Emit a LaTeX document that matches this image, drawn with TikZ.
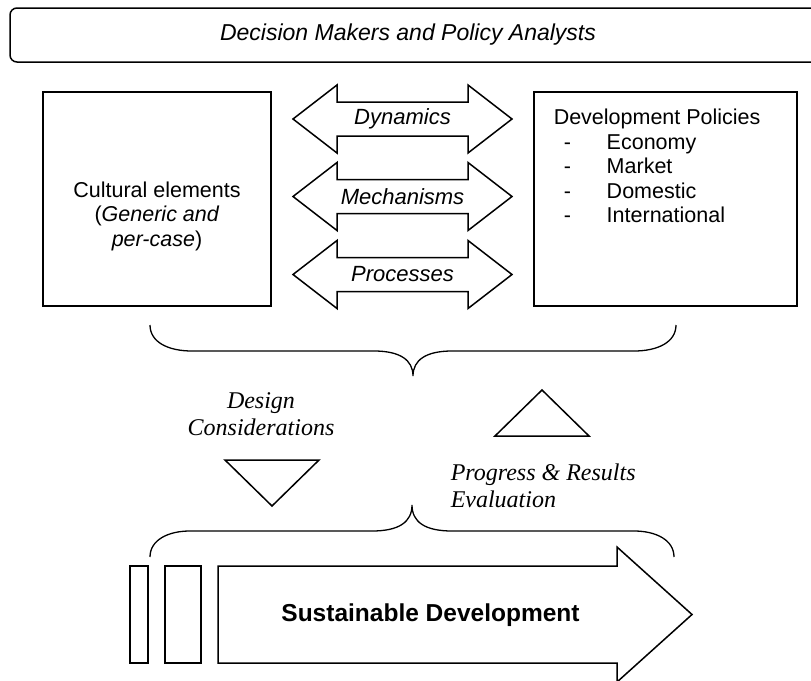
\documentclass[tikz,border=0pt]{standalone}
\usepackage{fontspec}
\setmainfont{Liberation Sans}
\newfontfamily\timesfont{Liberation Serif}
\usetikzlibrary{positioning}

\begin{document}
\begin{tikzpicture}[x=1pt,y=-1pt,line width=1.5pt,line join=miter,
	boxtext/.style={font=\fontsize{21.5}{24.5}\selectfont,inner sep=0pt},
	flowlbl/.style={font=\fontsize{22}{25}\selectfont\itshape,inner sep=0pt},
	notelbl/.style={font=\timesfont\itshape\fontsize{24}{27.5}\selectfont,inner sep=0pt},
	brace/.style={line width=1.3pt}]
				\useasboundingbox (0,0) rectangle (811,680);
				\coordinate (t1) at (10,8);%title box
				\coordinate (t2) at (840,62);
				\coordinate (b1) at (43,92);%cultural box
				\coordinate (b2) at (271,306);
				\coordinate (b3) at (534,92);%policies box
				\coordinate (b4) at (797,306);
				\coordinate (a1) at (293,119);%Dynamics
				\coordinate (a2) at (293,196.5);%Mechanisms
				\coordinate (a3) at (293,274.5);%Processes
				\coordinate (s1) at (218,566);%sustainable arrow
				\coordinate (s2) at (692,614.5);%arrow tip
				
				\draw[rounded corners=7pt] (t1) rectangle (t2);
				\node (title) at (408,35) [font=\fontsize{23}{26}\selectfont\itshape]{Decision Makers and Policy Analysts};
				
				\draw (b1) rectangle (b2);
				\node (cult) at (157,216) [boxtext,align=center]{Cultural elements\\(\textit{Generic and}\\\textit{per-case})};
				\draw (b3) rectangle (b4);
				\node (pol) at (553,166) [boxtext,anchor=west,align=left]{Development Policies\\
					\makebox[53pt][l]{\hspace{10pt}-}Economy\\
					\makebox[53pt][l]{\hspace{10pt}-}Market\\
					\makebox[53pt][l]{\hspace{10pt}-}Domestic\\
					\makebox[53pt][l]{\hspace{10pt}-}International};
				
				\draw (a1) -- ++(44,-34) -- ++(0,17) -- ++(131,0) -- ++(0,-17) -- ++(44,34) -- ++(-44,34) -- ++(0,-17) -- ++(-131,0) -- ++(0,17) -- cycle;
				\draw (a2) -- ++(44,-34) -- ++(0,17) -- ++(131,0) -- ++(0,-17) -- ++(44,34) -- ++(-44,34) -- ++(0,-17) -- ++(-131,0) -- ++(0,17) -- cycle;
				\draw (a3) -- ++(44,-34) -- ++(0,17) -- ++(131,0) -- ++(0,-17) -- ++(44,34) -- ++(-44,34) -- ++(0,-17) -- ++(-131,0) -- ++(0,17) -- cycle;
				\node (dyn) at (402.5,119) [flowlbl]{Dynamics};
				\node (mech) at (402.5,196.5) [flowlbl]{Mechanisms};
				\node (proc) at (402.5,274.5) [flowlbl]{Processes};
				
				\draw[brace] (150,325) .. controls (150,342) and (168,351) .. (192,351) -- (374,351) .. controls (400,351) and (413,360) .. (413,376) .. controls (413,360) and (426,351) .. (452,351) -- (634,351) .. controls (658,351) and (676,342) .. (676,325);
				
				\node (design) at (261,414) [notelbl,align=center]{Design\\Considerations};
				\draw (225,460) -- (319,460) -- (272,506) -- cycle;
				\draw (495,436) -- (589,436) -- (542,390) -- cycle;
				\node (eval) at (450,486) [notelbl,anchor=west,align=left]{Progress \& Results\\Evaluation};
				
				\draw[brace] (150,557) .. controls (150,540) and (168,531) .. (190,531) -- (372,531) .. controls (399,531) and (412,522) .. (412,505) .. controls (412,522) and (425,531) .. (452,531) -- (634,531) .. controls (656,531) and (674,540) .. (674,557);
				
				\draw (130,566) rectangle (148,663);
				\draw (165,566) rectangle (201,663);
				\draw (s1) -- (617,566) -- (617,547) -- (s2) -- (617,682) -- (617,663) -- (218,663) -- cycle;
				\node (sd) at (430.5,615) [font=\bfseries\fontsize{24.5}{28}\selectfont]{Sustainable Development};
				
			\end{tikzpicture}
\end{document}
